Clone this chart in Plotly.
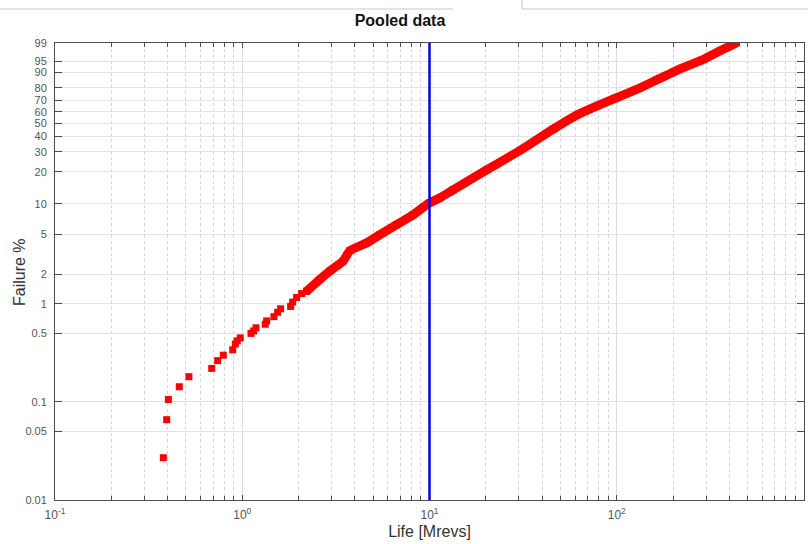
import numpy as np
import plotly.graph_objects as go

# ---- data (Life in Mrevs, Failure in %) ----
scatter_life = [0.379, 0.395, 0.403, 0.461, 0.519, 0.687, 0.739, 0.792, 0.889, 0.918,
                0.940, 0.976, 1.113, 1.150, 1.184, 1.327, 1.350, 1.477, 1.545, 1.603,
                1.813, 1.858, 1.952, 2.076, 2.207]
scatter_fail = [0.027, 0.066, 0.106, 0.143, 0.181, 0.220, 0.264, 0.300, 0.340, 0.390,
                0.420, 0.450, 0.500, 0.530, 0.570, 0.620, 0.670, 0.740, 0.820, 0.890,
                0.940, 1.040, 1.160, 1.270, 1.340]

band_life = [2.207, 2.598, 2.939, 3.462, 3.758, 4.615, 5.435, 6.674, 8.185, 9.9,
             11.36, 13.38, 20.18, 30.38, 45.75, 61.0, 78.0, 99.7, 127.6, 169.9,
             226.2, 289.3, 355.1, 436.0]
band_fail = [1.34, 1.77, 2.15, 2.72, 3.44, 4.11, 4.97, 6.24, 7.83, 10.1,
             11.4, 13.6, 20.8, 30.8, 45.6, 57.0, 64.8, 72.0, 78.7, 86.5,
             92.4, 95.6, 97.8, 99.0]

ref_life = 10  # vertical marker line

y_tick_pct = [0.01, 0.05, 0.1, 0.5, 1, 2, 5, 10, 20, 30, 40, 50, 60, 70, 80, 90, 95, 99]
y_tick_text = ["0.01", "0.05", "0.1", "0.5", "1", "2", "5", "10", "20", "30", "40",
               "50", "60", "70", "80", "90", "95", "99"]
x_decades = [0.1, 1, 10, 100, 1000]
x_tick_text = ["10<sup>-1</sup>", "10<sup>0</sup>", "10<sup>1</sup>", "10<sup>2</sup>", "10<sup>3</sup>"]


def weib(p):
    p = np.asarray(p, dtype=float) / 100.0
    return np.log(-np.log(1.0 - p))


x_minor = [d * k for d in x_decades[:-1] for k in range(2, 10)]

fig = go.Figure()
fig.add_trace(go.Scatter(
    x=band_life, y=weib(band_fail), mode="lines",
    line=dict(color="#ff0000", width=9, shape="spline", smoothing=0.6),
    showlegend=False, hoverinfo="skip"))
fig.add_trace(go.Scatter(
    x=band_life + scatter_life, y=np.concatenate([weib(band_fail), weib(scatter_fail)]),
    mode="markers",
    marker=dict(symbol="square", size=7, color="#ff0000", line=dict(width=0)),
    showlegend=False))

fig.add_shape(type="line", xref="x", yref="paper", x0=ref_life, x1=ref_life, y0=0, y1=1,
              line=dict(color="#0000e6", width=2.5), layer="above")

L, R, T, B = 55, 4, 43, 44
W, H = 808, 544
pw, ph = W - L - R, H - T - B


def px2paper_x(px):
    return (px - L) / pw


def px2paper_y(py):
    return (H - B - py) / ph


# thin screenshot artefacts at the top
art = dict(color="#c8c8c8", width=1)
fig.add_shape(type="line", xref="paper", yref="paper", x0=px2paper_x(0), x1=px2paper_x(453),
              y0=px2paper_y(9), y1=px2paper_y(9), line=art)
fig.add_shape(type="line", xref="paper", yref="paper", x0=px2paper_x(522), x1=px2paper_x(808),
              y0=px2paper_y(9), y1=px2paper_y(9), line=art)
fig.add_shape(type="line", xref="paper", yref="paper", x0=px2paper_x(522), x1=px2paper_x(522),
              y0=px2paper_y(0), y1=px2paper_y(9), line=art)

# y axis title placed as rotated text
fig.add_annotation(text="Failure %", xref="paper", yref="paper",
                   x=px2paper_x(19), y=px2paper_y(272), showarrow=False, textangle=-90,
                   xanchor="center", yanchor="middle",
                   font=dict(size=16, color="#333333"))

axis_col = "#4d4d4d"
fig.update_layout(
    width=W, height=H,
    margin=dict(l=L, r=R, t=T, b=B),
    paper_bgcolor="white", plot_bgcolor="white",
    font=dict(family="Liberation Sans, Arial, sans-serif", color="#555555"),
    title=dict(text="<b>Pooled data</b>", x=400 / W, xref="container", xanchor="center",
               y=1 - 20 / H, yref="container", yanchor="middle",
               font=dict(size=16, color="#111111")),
    xaxis=dict(
        type="log", range=[-1, 3],
        tickmode="array", tickvals=x_decades, ticktext=x_tick_text,
        ticks="inside", ticklen=5, tickcolor=axis_col,
        showline=True, linecolor=axis_col, linewidth=1, mirror="ticks",
        showgrid=True, gridcolor="#dcdcdc", gridwidth=1,
        tickfont=dict(size=12, color="#555555"), ticklabelstandoff=4,
        minor=dict(tickmode="array", tickvals=x_minor, ticks="inside", ticklen=4,
                   tickcolor=axis_col, showgrid=True, gridcolor="#d4d4d4", griddash="dot"),
        title=dict(text="Life [Mrevs]", font=dict(size=16, color="#333333"), standoff=4),
        zeroline=False,
    ),
    yaxis=dict(
        range=[float(weib(0.01)), float(weib(99))],
        tickmode="array", tickvals=list(weib(y_tick_pct)), ticktext=y_tick_text,
        ticks="inside", ticklen=7, tickcolor=axis_col,
        showline=True, linecolor=axis_col, linewidth=1, mirror="ticks",
        showgrid=True, gridcolor="#e2e2e2", gridwidth=1,
        tickfont=dict(size=11, color="#555555"), ticklabelstandoff=5,
        zeroline=False,
    ),
)

fig.write_html("out.html")
